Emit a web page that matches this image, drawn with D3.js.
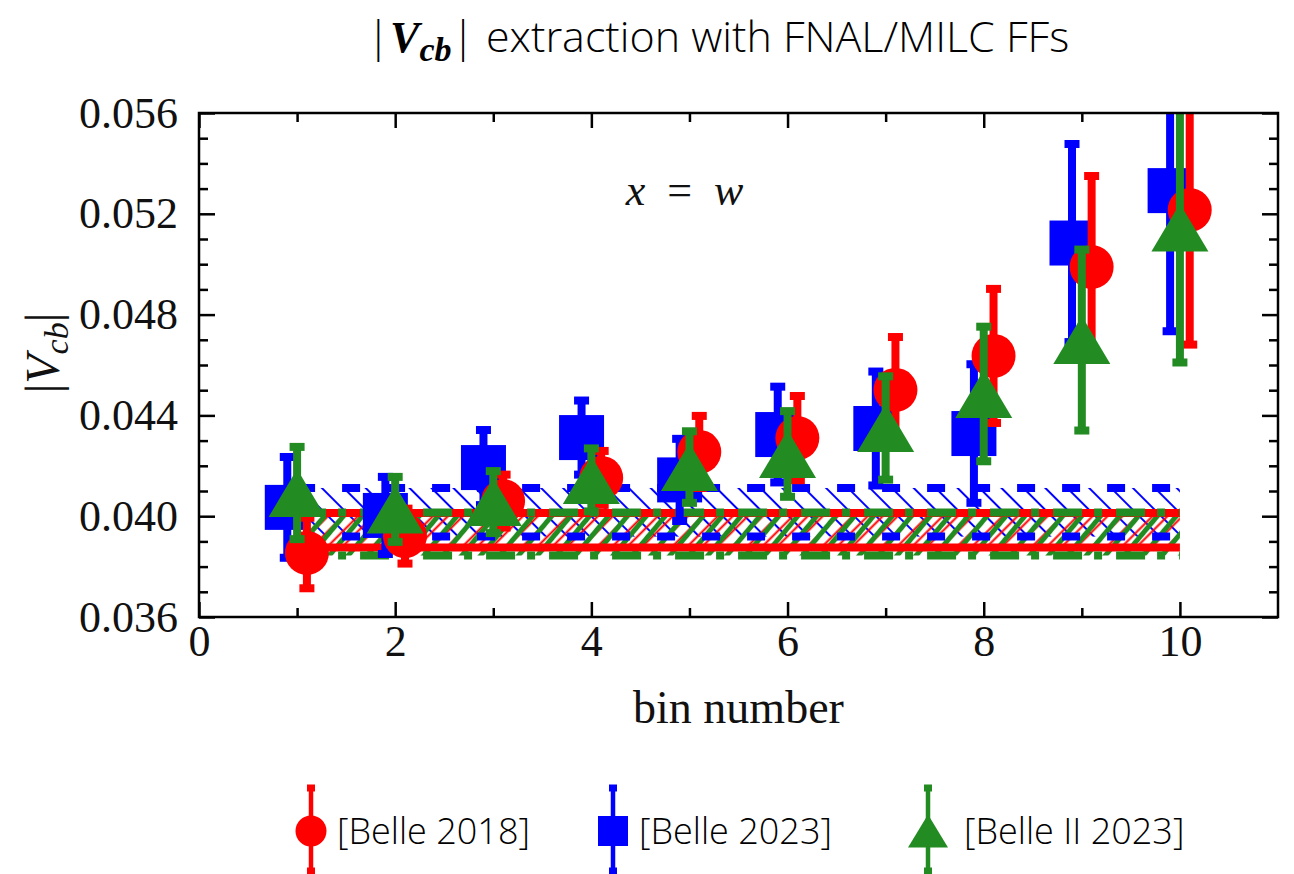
<!DOCTYPE html>
<html>
<head>
<meta charset="utf-8">
<script src="https://cdn.jsdelivr.net/npm/d3@7"></script>
<style>
  body { margin: 0; background: #fff; }
</style>
</head>
<body>
<div id="chart"></div>
<script>
// data
var bins = [1, 2, 3, 4, 5, 6, 7, 8, 9, 10];

var belle2018 = [0.03854, 0.03921, 0.04060, 0.04152, 0.04255, 0.04310, 0.04501, 0.04636, 0.04989, 0.05215];
var belle2018Err = [0.00140, 0.00109, 0.00105, 0.00107, 0.00143, 0.00167, 0.00210, 0.00266, 0.00361, 0.00534];

var belle2023 = [0.04035, 0.04003, 0.04193, 0.04312, 0.04144, 0.04324, 0.04348, 0.04328, 0.05084, 0.05292];
var belle2023Err = [0.00200, 0.00153, 0.00149, 0.00147, 0.00163, 0.00190, 0.00226, 0.00275, 0.00393, 0.00558];

var belleII2023 = [0.04092, 0.04027, 0.04056, 0.04144, 0.04195, 0.04247, 0.04350, 0.04485, 0.04699, 0.05146];
var belleII2023Err = [0.00183, 0.00129, 0.00123, 0.00125, 0.00142, 0.00170, 0.00205, 0.00267, 0.00359, 0.00536];

// fitted |Vcb| bands [low, high]
var band2018 = [0.03876, 0.04013];
var band2023 = [0.03919, 0.04112];
var bandII2023 = [0.03844, 0.04015];
var bandBins = [1, 10];

var xTicks = [0, 2, 4, 6, 8, 10];
var xMinor = [1, 3, 5, 7, 9];
var yTicks = [0.036, 0.040, 0.044, 0.048, 0.052, 0.056];
var yMinor = d3.range(37, 56).map(function (d) { return d / 1000; }).filter(function (d) { return Math.round(d * 1000) % 4 !== 0; });

var legendLabels = ["[Belle 2018]", "[Belle 2023]", "[Belle II 2023]"];

var W = 1294, H = 874;
var margin = { top: 113, right: 16, bottom: 257, left: 199 },
    width = W - margin.left - margin.right,
    height = H - margin.top - margin.bottom;

var red = "#ff0000", blue = "#0000ff", green = "#228b22";
var serif = "'Liberation Serif', 'Times New Roman', serif";
var sans = "'Open Sans', 'Noto Sans', sans-serif";

var svg = d3.select("#chart")
    .append("svg")
    .attr("width", W)
    .attr("height", H);

var defs = svg.append("defs");

function hatch(id, color, spacing, angle, sw) {
    var p = defs.append("pattern")
        .attr("id", id)
        .attr("patternUnits", "userSpaceOnUse")
        .attr("width", spacing)
        .attr("height", spacing)
        .attr("patternTransform", "rotate(" + angle + ")");
    p.append("line")
        .attr("x1", spacing / 2).attr("x2", spacing / 2)
        .attr("y1", -1).attr("y2", spacing + 1)
        .attr("stroke", color)
        .attr("stroke-width", sw);
}
hatch("hBlue", blue, 15.5, -45, 2);
hatch("hRed", red, 10.6, 45, 2);
hatch("hGreen", green, 14.5, 40, 5);

defs.append("clipPath").attr("id", "plotClip")
    .append("rect").attr("width", width).attr("height", height);

var g = svg.append("g")
    .attr("transform", "translate(" + margin.left + "," + margin.top + ")");

var x = d3.scaleLinear().domain([0, 11]).range([0, width]);
var y = d3.scaleLinear().domain([0.036, 0.056]).range([height, 0]);

// axes, ticks inside on all four sides
function styleAxis(sel) {
    sel.select(".domain").remove();
    sel.selectAll(".tick line").attr("stroke", "#000").attr("stroke-width", 2.5);
    sel.attr("font-family", serif).attr("font-size", 44);
    sel.selectAll(".tick text").attr("fill", "#111");
}

g.append("g")
    .attr("transform", "translate(0," + height + ")")
    .call(d3.axisBottom(x).tickValues(xTicks).tickSize(-15).tickPadding(8).tickFormat(d3.format("d")))
    .call(styleAxis);
g.append("g")
    .attr("transform", "translate(0," + height + ")")
    .call(d3.axisBottom(x).tickValues(xMinor).tickSize(-9).tickFormat(""))
    .call(styleAxis);
g.append("g")
    .call(d3.axisTop(x).tickValues(xTicks).tickSize(-15).tickFormat(""))
    .call(styleAxis);
g.append("g")
    .call(d3.axisTop(x).tickValues(xMinor).tickSize(-9).tickFormat(""))
    .call(styleAxis);

g.append("g")
    .call(d3.axisLeft(y).tickValues(yTicks).tickSize(-16).tickPadding(21).tickFormat(d3.format(".3f")))
    .call(styleAxis);
g.append("g")
    .call(d3.axisLeft(y).tickValues(yMinor).tickSize(-9).tickFormat(""))
    .call(styleAxis);
g.append("g")
    .attr("transform", "translate(" + width + ",0)")
    .call(d3.axisRight(y).tickValues(yTicks).tickSize(-16).tickFormat(""))
    .call(styleAxis);
g.append("g")
    .attr("transform", "translate(" + width + ",0)")
    .call(d3.axisRight(y).tickValues(yMinor).tickSize(-9).tickFormat(""))
    .call(styleAxis);

// bands
var plot = g.append("g").attr("clip-path", "url(#plotClip)");

var bands = [
    { b: band2023, fill: "url(#hBlue)", color: blue, dash: "18,27" },
    { b: band2018, fill: "url(#hRed)", color: red, dash: null },
    { b: bandII2023, fill: "url(#hGreen)", color: green, dash: "29,12,8,14" }
];

bands.forEach(function (d) {
    plot.append("rect")
        .attr("x", x(bandBins[0]))
        .attr("width", x(bandBins[1]) - x(bandBins[0]))
        .attr("y", y(d.b[1]))
        .attr("height", y(d.b[0]) - y(d.b[1]))
        .attr("fill", d.fill);
});
bands.forEach(function (d) {
    d.b.forEach(function (v) {
        plot.append("line")
            .attr("x1", x(bandBins[0])).attr("x2", x(bandBins[1]))
            .attr("y1", y(v)).attr("y2", y(v))
            .attr("stroke", d.color)
            .attr("stroke-width", 8)
            .attr("stroke-dasharray", d.dash);
    });
});

// markers
function triPath(cx, cy, w, h) {
    return "M" + cx + "," + (cy - h / 2) + "L" + (cx + w / 2) + "," + (cy + h / 2) + "L" + (cx - w / 2) + "," + (cy + h / 2) + "Z";
}

function marker(sel, shape, cx, cy, s, color) {
    if (shape === "circle") {
        sel.append("circle").attr("cx", cx).attr("cy", cy).attr("r", s.r).attr("fill", color);
    } else if (shape === "square") {
        sel.append("rect").attr("x", cx - s.sq / 2).attr("y", cy - s.sq / 2)
            .attr("width", s.sq).attr("height", s.sq).attr("fill", color);
    } else {
        sel.append("path").attr("d", triPath(cx, cy, s.tw, s.th)).attr("fill", color);
    }
}

function errBar(sel, cx, y0, y1, s, color) {
    sel.append("line")
        .attr("x1", cx).attr("x2", cx)
        .attr("y1", y0).attr("y2", y1)
        .attr("stroke", color).attr("stroke-width", s.bw);
    [y0, y1].forEach(function (yy) {
        sel.append("rect")
            .attr("x", cx - s.cw / 2).attr("y", yy - s.ch / 2)
            .attr("width", s.cw).attr("height", s.ch)
            .attr("fill", color);
    });
}

var big = { r: 22, sq: 45, tw: 57, th: 48, bw: 8, cw: 15, ch: 8 };
var small = { r: 15.5, sq: 30, tw: 40, th: 33, bw: 4.5, cw: 8, ch: 7 };

var series = [
    { vals: belle2023, errs: belle2023Err, off: -0.1, color: blue, shape: "square" },
    { vals: belle2018, errs: belle2018Err, off: 0.1, color: red, shape: "circle" },
    { vals: belleII2023, errs: belleII2023Err, off: 0, color: green, shape: "triangle" }
];

series.forEach(function (s) {
    var sg = plot.append("g");
    bins.forEach(function (b, i) {
        var cx = x(b + s.off);
        errBar(sg, cx, y(s.vals[i] - s.errs[i]), y(s.vals[i] + s.errs[i]), big, s.color);
        marker(sg, s.shape, cx, y(s.vals[i]), big, s.color);
    });
});

// frame
g.append("rect")
    .attr("width", width).attr("height", height)
    .attr("fill", "none").attr("stroke", "#000").attr("stroke-width", 2.5);

// annotation x = w
var ann = g.append("text")
    .attr("x", x(4.95)).attr("y", y(0.05235))
    .attr("text-anchor", "middle")
    .attr("font-family", serif).attr("font-size", 44).attr("fill", "#111");
ann.append("tspan").attr("font-style", "italic").text("x");
ann.append("tspan").text("\u2002=\u2002");
ann.append("tspan").attr("font-style", "italic").text("w");

// axis titles
g.append("text")
    .attr("x", x(5.5)).attr("y", height + 106)
    .attr("text-anchor", "middle")
    .attr("font-family", serif).attr("font-size", 46).attr("fill", "#111")
    .text("bin number");

var yl = g.append("text")
    .attr("transform", "translate(" + (-140) + "," + (height / 2 - 12) + ") rotate(-90)")
    .attr("text-anchor", "middle")
    .attr("font-family", serif).attr("font-size", 48).attr("fill", "#111");
yl.append("tspan").text("|");
yl.append("tspan").attr("font-style", "italic").text("V");
yl.append("tspan").attr("font-style", "italic").attr("font-size", 34).attr("dy", 9).text("cb");
yl.append("tspan").attr("dy", -9).text("|");

// title
var title = svg.append("text")
    .attr("x", 718).attr("y", 52)
    .attr("text-anchor", "middle")
    .attr("font-family", sans).attr("font-weight", 300).attr("font-size", 43).attr("fill", "#000");
title.append("tspan").text("|");
title.append("tspan").attr("font-family", serif).attr("font-style", "italic").attr("font-weight", "bold")
    .attr("font-size", 44).text("V");
title.append("tspan").attr("font-family", serif).attr("font-style", "italic").attr("font-weight", "bold")
    .attr("font-size", 34).attr("dy", 9).text("cb");
title.append("tspan").attr("dy", -9).text("|");
title.append("tspan").text(" extraction with FNAL/MILC FFs");

// legend
var legendX = [311, 613, 928];
var legend = svg.append("g");
series.slice().sort(function (a, b) { return a.off === 0.1 ? -1 : (b.off === 0.1 ? 1 : a.off - b.off); })
    .forEach(function (s, i) {
        var cx = legendX[i], cy = 831;
        errBar(legend, cx, 788, 871, small, s.color);
        marker(legend, s.shape, cx, cy, small, s.color);
        legend.append("text")
            .attr("x", cx + (s.shape === "triangle" ? 36 : 26))
            .attr("y", cy + 13)
            .attr("font-family", sans).attr("font-weight", 300).attr("font-size", 36).attr("fill", "#000")
            .text(legendLabels[i]);
    });
</script>
</body>
</html>
